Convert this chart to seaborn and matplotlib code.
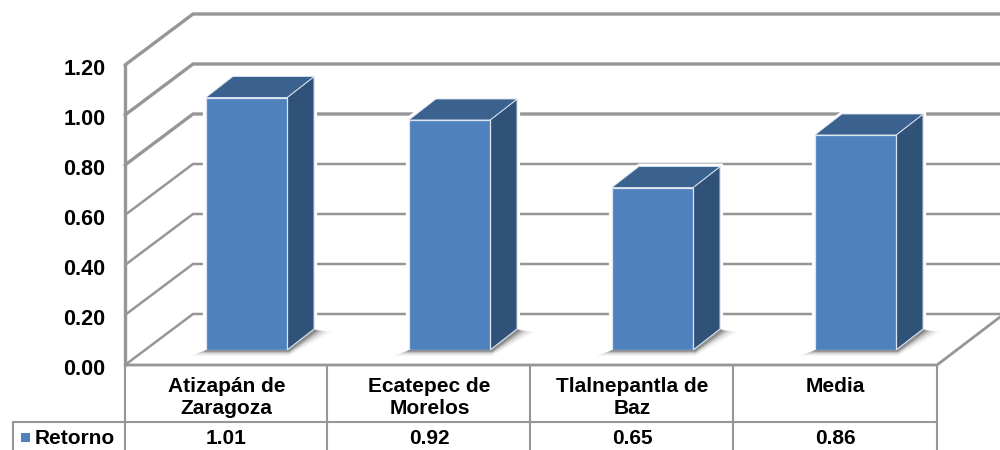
import matplotlib
matplotlib.use("Agg")
import matplotlib.pyplot as plt
from matplotlib.transforms import ScaledTranslation, blended_transform_factory
import seaborn as sns
import pandas as pd
from matplotlib.patches import Polygon, Rectangle

categories = ["Atizapán de\nZaragoza", "Ecatepec de\nMorelos", "Tlalnepantla de\nBaz", "Media"]
values = [1.01, 0.92, 0.65, 0.86]
value_labels = ["1.01", "0.92", "0.65", "0.86"]
series_name = "Retorno"
y_ticks = [0.0, 0.2, 0.4, 0.6, 0.8, 1.0, 1.2]

FRONT, SIDE, TOP = "#4F81BD", "#315278", "#3B618E"
EDGE = "#DCE6F2"
GRID = "#969696"
TEXT = "#000000"
W, H = 1000, 450

sns.set_theme(style="white")
plt.rcParams["font.family"] = ["Liberation Sans", "DejaVu Sans"]
plt.rcParams["font.weight"] = "bold"

fig = plt.figure(figsize=(10, 4.5), dpi=100, facecolor="white")

def rect(x0, x1, y_top, y_bot):
    return [x0 / W, 1 - y_bot / H, (x1 - x0) / W, (y_bot - y_top) / H]

# pixel backdrop for the 3D walls and the data table rules
bg = fig.add_axes([0, 0, 1, 1], zorder=0)
bg.set_xlim(0, W); bg.set_ylim(H, 0); bg.axis("off")

# front plane: value and category labels
ax = fig.add_axes(rect(125, 937, 65, 365), zorder=1)
ax.patch.set_alpha(0)
ax.set_xlim(-0.5, 3.5); ax.set_ylim(0, 1.2)
ax.set_yticks(y_ticks, [f"{t:.2f}" for t in y_ticks], fontsize=15.5, fontweight="bold", color=TEXT)
ax.set_xticks(range(len(categories)), categories, fontsize=15, fontweight="bold", color=TEXT,
              linespacing=1.2)
ax.tick_params(axis="y", length=0, pad=14)
ax.tick_params(axis="x", length=0, pad=9)
for lab in ax.get_yticklabels():
    lab.set_transform(lab.get_transform() + ScaledTranslation(0, -2 / 100, fig.dpi_scale_trans))
sns.despine(ax=ax, left=True, bottom=True)

# bar plane, set back from the front plane
bx = fig.add_axes(rect(145, 957, 50, 350), zorder=2)
bx.patch.set_alpha(0)
df = pd.DataFrame({"cat": categories, "val": values})
sns.barplot(data=df, x="cat", y="val", ax=bx, color=FRONT, saturation=1, width=0.4,
            edgecolor=EDGE, linewidth=0.9, zorder=3)
bx.set_xlim(-0.5, 3.5); bx.set_ylim(0, 1.2)
bx.axis("off")

# walls
def px(v):
    return 365 - 250 * v

for t in y_ticks:
    y = px(t)
    lw = 2.4 if t >= 0.8 else 1.8
    bg.plot([125, 193, 1000], [y, y - 51, y - 51], color=GRID, lw=lw, solid_joinstyle="miter", zorder=2)
bg.plot([125, 125], [px(1.2), px(0)], color=GRID, lw=2.4, zorder=2)
bg.plot([125, 937, 1004], [365, 365, 314], color=GRID, lw=2.0, solid_joinstyle="miter", zorder=2)

# table rules
for x in [125, 327, 530, 733, 937]:
    bg.plot([x, x], [365, 450], color=GRID, lw=1.5, zorder=2)
bg.plot([13, 937], [422, 422], color=GRID, lw=1.5, zorder=2)
bg.plot([13, 13], [422, 450], color=GRID, lw=1.5, zorder=2)
bg.add_patch(Rectangle((21, 433), 9, 9, color=FRONT, lw=0))
bg.text(35, 439, series_name, fontsize=15, fontweight="bold", color=TEXT, va="center", ha="left")
value_tr = blended_transform_factory(ax.transData, bg.transData)
for i, lab in enumerate(value_labels):
    ax.text(i, 439, lab, fontsize=15, fontweight="bold", color=TEXT, ha="center", va="center",
            transform=value_tr)

# extrude the seaborn bars, in pixel space
DX, DY = 27, -21
to_px = bx.transData + bg.transData.inverted()
to_bar = bg.transData + bx.transData.inverted()
for bar in list(bx.patches):
    (x0, yb) = to_px.transform((bar.get_x(), 0))
    (x1, yt) = to_px.transform((bar.get_x() + bar.get_width(), bar.get_height()))
    # white halo where the bar interrupts the gridlines
    bg.add_patch(Polygon([(x0 - 3, yb), (x0 - 3, yt - 2), (x0 + DX, yt + DY - 3), (x1 + DX + 3, yt + DY - 3),
                          (x1 + DX + 3, yb + DY + 2), (x1 + 2, yb + 2)],
                         closed=True, fc="white", ec="none", zorder=3))
    # soft floor shadow
    for grow, a in [(16, 0.05), (12, 0.08), (8, 0.12), (5, 0.18), (2, 0.28)]:
        bg.add_patch(Polygon([(x0 - grow, yb + 1 + grow * 0.3), (x1 + 2, yb + 1 + grow * 0.3),
                              (x1 + DX + 1 + grow, yb + DY + 2 + grow * 0.05),
                              (x1 + DX, yb + DY), (x0, yb)],
                             closed=True, fc="#303030", ec="none", alpha=a, zorder=4))
    bx.add_patch(Polygon(to_bar.transform([(x1, yt), (x1 + DX, yt + DY), (x1 + DX, yb + DY), (x1, yb)]),
                         closed=True, fc=SIDE, ec=EDGE, lw=0.8, zorder=2))
    bx.add_patch(Polygon(to_bar.transform([(x0, yt), (x0 + DX, yt + DY), (x1 + DX, yt + DY), (x1, yt)]),
                         closed=True, fc=TOP, ec=EDGE, lw=0.6, zorder=2))

fig.savefig("out.png", dpi=100, facecolor="white")
